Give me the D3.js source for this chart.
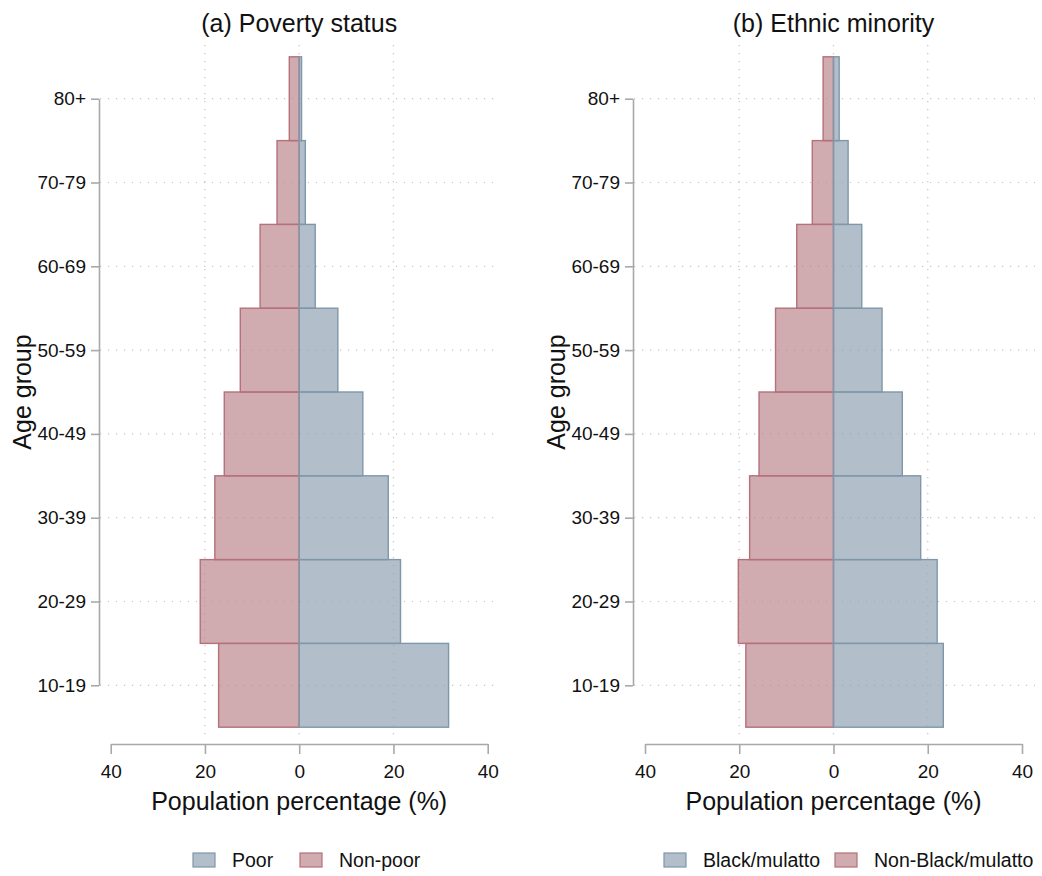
<!DOCTYPE html>
<html>
<head>
<meta charset="utf-8">
<script src="https://cdn.jsdelivr.net/npm/d3@7"></script>
<style>
  body { margin: 0; background: #fff; }
  text { font-family: "Liberation Sans", Arial, sans-serif; fill: #111; }
</style>
</head>
<body>
<svg id="chart" width="1042" height="876"></svg>
<script>
// age groups, bottom to top
const ageGroups = ["10-19", "20-29", "30-39", "40-49", "50-59", "60-69", "70-79", "80+"];
const xTicks = [-40, -20, 0, 20, 40];
const gridTicks = [-20, 0, 20];

// (a) poverty status, % of each group
const poor    = [31.7, 21.5, 18.9, 13.5, 8.2, 3.4, 1.3, 0.5];
const nonPoor = [17.1, 21.0, 17.9, 15.9, 12.5, 8.3, 4.7, 2.1];

// (b) ethnic minority
const black    = [23.3, 22.0, 18.5, 14.6, 10.3, 6.0, 3.1, 1.2];
const nonBlack = [18.6, 20.2, 17.8, 15.8, 12.3, 7.8, 4.5, 2.2];

const panels = [
  {title: "(a) Poverty status", right: poor, left: nonPoor,
   names: ["Poor", "Non-poor"], x0: 110.7, x1: 487.7, axisX: 99, gridEnd: 498,
   ytitleX: 31, legendX: [193, 300]},
  {title: "(b) Ethnic minority", right: black, left: nonBlack,
   names: ["Black/mulatto", "Non-Black/mulatto"], x0: 645, x1: 1022, axisX: 633, gridEnd: 1035,
   ytitleX: 565, legendX: [664, 835]}
];

const blue = {fill: "#91a4b3", stroke: "#7f97a9"};
const red  = {fill: "#bc888e", stroke: "#b5707a"};
const axisColor = "#a9a9a9";
const gridColor = "#c4c4c4";

const svg = d3.select("#chart");

const y = d3.scalePoint().domain(ageGroups).range([685.3, 98.7]);
const step = y.step();

panels.forEach(p => {
  const g = svg.append("g");
  const x = d3.scaleLinear().domain([-40, 40]).range([p.x0, p.x1]);

  // grid
  g.selectAll(".hgrid").data(ageGroups).join("line")
    .attr("x1", p.axisX + 1).attr("x2", p.gridEnd)
    .attr("y1", d => y(d)).attr("y2", d => y(d))
    .attr("stroke", gridColor).attr("stroke-width", 1.2)
    .attr("stroke-dasharray", "1.2,6.8");
  g.selectAll(".vgrid").data(gridTicks).join("line")
    .attr("x1", d => x(d)).attr("x2", d => x(d))
    .attr("y1", 45).attr("y2", 740)
    .attr("stroke", gridColor).attr("stroke-width", 1.2)
    .attr("stroke-dasharray", "1.2,6.8");

  // left bars
  g.selectAll(".lbar").data(p.left).join("rect")
    .attr("x", d => x(-d)).attr("width", d => x(0) - x(-d))
    .attr("y", (d, i) => y(ageGroups[i]) - step / 2).attr("height", step)
    .attr("fill", red.fill).attr("fill-opacity", 0.7)
    .attr("stroke", red.stroke).attr("stroke-width", 1.4);

  // right bars
  g.selectAll(".rbar").data(p.right).join("rect")
    .attr("x", x(0)).attr("width", d => x(d) - x(0))
    .attr("y", (d, i) => y(ageGroups[i]) - step / 2).attr("height", step)
    .attr("fill", blue.fill).attr("fill-opacity", 0.7)
    .attr("stroke", blue.stroke).attr("stroke-width", 1.4);

  // x axis
  const xa = g.append("g").attr("transform", "translate(0,744)")
    .call(d3.axisBottom(x).tickValues(xTicks).tickFormat(d => Math.abs(d))
      .tickSize(10).tickSizeOuter(0).tickPadding(11));
  xa.selectAll("text").style("font-size", "19px");

  // y axis
  const ya = g.append("g").attr("transform", `translate(${p.axisX},0)`)
    .call(d3.axisLeft(y).tickSize(8).tickSizeOuter(0).tickPadding(5));
  ya.selectAll("text").style("font-size", "19px");

  [xa, ya].forEach(a => {
    a.select(".domain").attr("stroke", axisColor).attr("stroke-width", 1.6);
    a.selectAll(".tick line").attr("stroke", axisColor).attr("stroke-width", 1.6);
    a.selectAll("text").attr("fill", "#111").style("font-family", "Liberation Sans, Arial, sans-serif");
  });

  // titles
  g.append("text").attr("x", x(0)).attr("y", 32)
    .attr("text-anchor", "middle").style("font-size", "25px").text(p.title);
  g.append("text").attr("x", x(0)).attr("y", 810)
    .attr("text-anchor", "middle").style("font-size", "25px").text("Population percentage (%)");
  g.append("text")
    .attr("transform", `translate(${p.ytitleX},${(y.range()[0] + y.range()[1]) / 2}) rotate(-90)`)
    .attr("text-anchor", "middle").style("font-size", "25px").text("Age group");

  // legend
  const keys = [blue, red];
  p.names.forEach((name, i) => {
    const lx = p.legendX[i];
    g.append("rect").attr("x", lx).attr("y", 853).attr("width", 22).attr("height", 14)
      .attr("fill", keys[i].fill).attr("fill-opacity", 0.7)
      .attr("stroke", keys[i].stroke).attr("stroke-width", 1.2);
    g.append("text").attr("x", lx + 39).attr("y", 867)
      .style("font-size", "19.5px").text(name);
  });
});
</script>
</body>
</html>
